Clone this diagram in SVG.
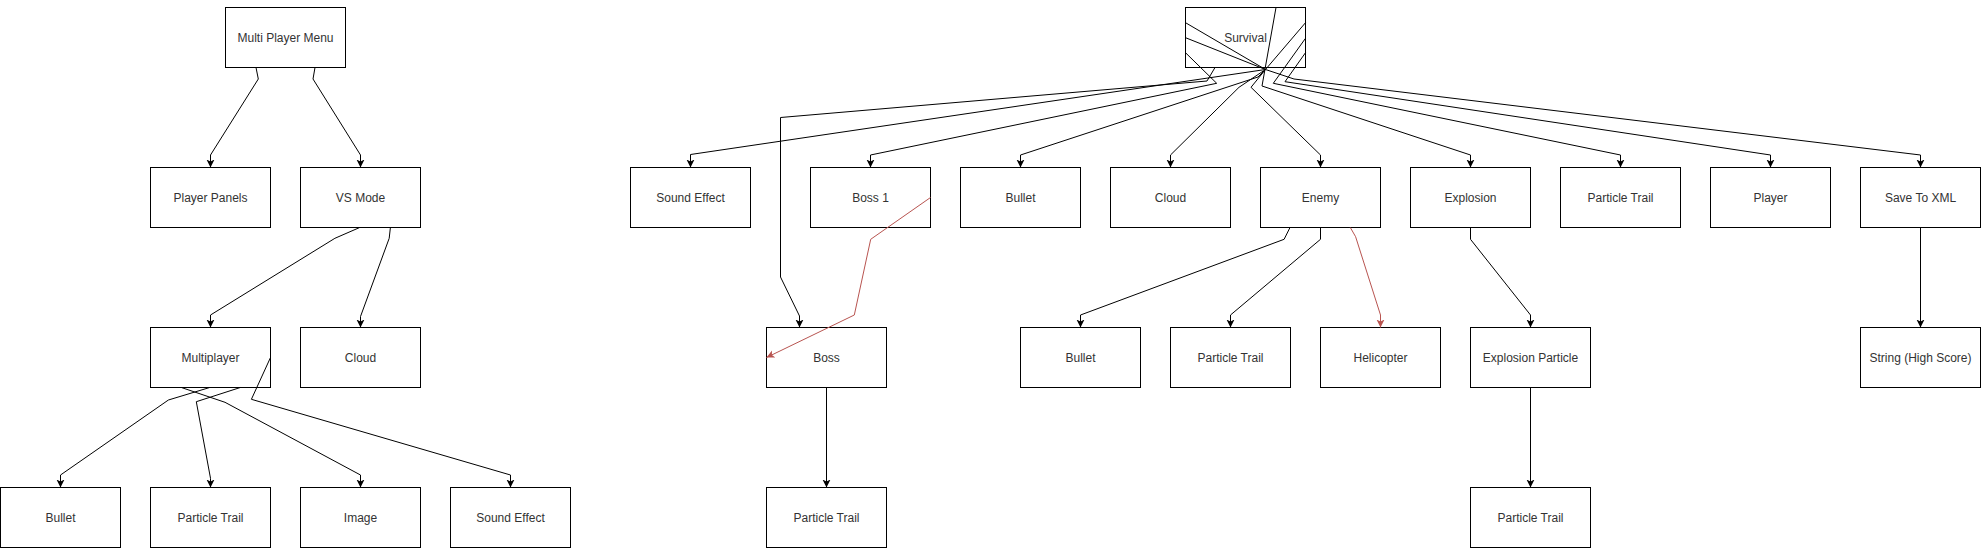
<svg xmlns="http://www.w3.org/2000/svg" width="1981" height="548" viewBox="0 0 1981 548">
<style>
.box{fill:#fff;stroke:#000;stroke-width:1}
.lbl{font-family:"Liberation Sans",Arial,sans-serif;font-size:12px;fill:#333;text-anchor:middle}
.e{fill:none;stroke:#000;stroke-width:1;marker-end:url(#arr)}
.r{fill:none;stroke:#b85450;stroke-width:1;marker-end:url(#arrR)}
.n{fill:none;stroke:#000;stroke-width:1}
</style>
<defs>
<marker id="arr" markerWidth="10" markerHeight="10" refX="8" refY="4" orient="auto" markerUnits="userSpaceOnUse"><path d="M0,0 L8,4 L0,8 L2,4 z" fill="#000"/></marker>
<marker id="arrR" markerWidth="10" markerHeight="10" refX="8" refY="4" orient="auto" markerUnits="userSpaceOnUse"><path d="M0,0 L8,4 L0,8 L2,4 z" fill="#b85450"/></marker>
</defs>
<rect width="1981" height="548" fill="#fff"/>
<g id="nodes">
<g id="mpm"><rect class="box" x="225.5" y="7.5" width="120" height="60"/><text class="lbl" x="285.5" y="41.5">Multi Player Menu</text></g>
<g id="pp"><rect class="box" x="150.5" y="167.5" width="120" height="60"/><text class="lbl" x="210.5" y="201.5">Player Panels</text></g>
<g id="vs"><rect class="box" x="300.5" y="167.5" width="120" height="60"/><text class="lbl" x="360.5" y="201.5">VS Mode</text></g>
<g id="mp"><rect class="box" x="150.5" y="327.5" width="120" height="60"/><text class="lbl" x="210.5" y="361.5">Multiplayer</text></g>
<g id="cl1"><rect class="box" x="300.5" y="327.5" width="120" height="60"/><text class="lbl" x="360.5" y="361.5">Cloud</text></g>
<g id="b1"><rect class="box" x="0.5" y="487.5" width="120" height="60"/><text class="lbl" x="60.5" y="521.5">Bullet</text></g>
<g id="pt1"><rect class="box" x="150.5" y="487.5" width="120" height="60"/><text class="lbl" x="210.5" y="521.5">Particle Trail</text></g>
<g id="img"><rect class="box" x="300.5" y="487.5" width="120" height="60"/><text class="lbl" x="360.5" y="521.5">Image</text></g>
<g id="se1"><rect class="box" x="450.5" y="487.5" width="120" height="60"/><text class="lbl" x="510.5" y="521.5">Sound Effect</text></g>
<g id="surv"><rect class="box" x="1185.5" y="7.5" width="120" height="60"/><text class="lbl" x="1245.5" y="41.5">Survival</text></g>
<g id="se2"><rect class="box" x="630.5" y="167.5" width="120" height="60"/><text class="lbl" x="690.5" y="201.5">Sound Effect</text></g>
<g id="boss1"><rect class="box" x="810.5" y="167.5" width="120" height="60"/><text class="lbl" x="870.5" y="201.5">Boss 1</text></g>
<g id="bul2"><rect class="box" x="960.5" y="167.5" width="120" height="60"/><text class="lbl" x="1020.5" y="201.5">Bullet</text></g>
<g id="cl2"><rect class="box" x="1110.5" y="167.5" width="120" height="60"/><text class="lbl" x="1170.5" y="201.5">Cloud</text></g>
<g id="enemy"><rect class="box" x="1260.5" y="167.5" width="120" height="60"/><text class="lbl" x="1320.5" y="201.5">Enemy</text></g>
<g id="expl"><rect class="box" x="1410.5" y="167.5" width="120" height="60"/><text class="lbl" x="1470.5" y="201.5">Explosion</text></g>
<g id="pt2"><rect class="box" x="1560.5" y="167.5" width="120" height="60"/><text class="lbl" x="1620.5" y="201.5">Particle Trail</text></g>
<g id="player"><rect class="box" x="1710.5" y="167.5" width="120" height="60"/><text class="lbl" x="1770.5" y="201.5">Player</text></g>
<g id="save"><rect class="box" x="1860.5" y="167.5" width="120" height="60"/><text class="lbl" x="1920.5" y="201.5">Save To XML</text></g>
<g id="boss"><rect class="box" x="766.5" y="327.5" width="120" height="60"/><text class="lbl" x="826.5" y="361.5">Boss</text></g>
<g id="bul3"><rect class="box" x="1020.5" y="327.5" width="120" height="60"/><text class="lbl" x="1080.5" y="361.5">Bullet</text></g>
<g id="pt3"><rect class="box" x="1170.5" y="327.5" width="120" height="60"/><text class="lbl" x="1230.5" y="361.5">Particle Trail</text></g>
<g id="heli"><rect class="box" x="1320.5" y="327.5" width="120" height="60"/><text class="lbl" x="1380.5" y="361.5">Helicopter</text></g>
<g id="ep"><rect class="box" x="1470.5" y="327.5" width="120" height="60"/><text class="lbl" x="1530.5" y="361.5">Explosion Particle</text></g>
<g id="str"><rect class="box" x="1860.5" y="327.5" width="120" height="60"/><text class="lbl" x="1920.5" y="361.5">String (High Score)</text></g>
<g id="pt4"><rect class="box" x="766.5" y="487.5" width="120" height="60"/><text class="lbl" x="826.5" y="521.5">Particle Trail</text></g>
<g id="pt5"><rect class="box" x="1470.5" y="487.5" width="120" height="60"/><text class="lbl" x="1530.5" y="521.5">Particle Trail</text></g>
</g>
<g id="connectors">
<path class="e" d="M256,67.5 L258.3,79 L210.5,155 L210.5,167.5"/>
<path class="e" d="M315,67.5 L313,79 L360.5,155 L360.5,167.5"/>
<path class="e" d="M359.7,227.5 L334.9,238.3 L210.5,315 L210.5,327.5"/>
<path class="e" d="M390.4,227.5 L389.2,238.3 L360.5,316.5 L360.5,327.5"/>
<path class="e" d="M209.7,387.5 L168.4,400 L60.5,475 L60.5,487.5"/>
<path class="e" d="M240.3,387.5 L196.3,401.7 L210.5,478.3 L210.5,487.5"/>
<path class="e" d="M181.4,387.5 L225,402.3 L360.5,475 L360.5,487.5"/>
<path class="e" d="M270.5,357.5 L251.4,399.3 L510.5,475 L510.5,487.5"/>
<path class="e" d="M1185.5,22.7 L1265.5,69.5 L690.5,154.5 L690.5,167.5"/>
<path class="e" d="M1215,67.5 L1207,81 L780.5,117.5 L780.5,277 L799.5,316 L799.5,327.5"/>
<path class="e" d="M1185.5,52.7 L1216.7,83.3 L870.5,155 L870.5,167.5"/>
<path class="e" d="M1265.5,69.5 L1258,77 L1020.5,155 L1020.5,167.5"/>
<path class="e" d="M1265.5,69.5 L1239,87.3 L1170.5,155 L1170.5,167.5"/>
<path class="e" d="M1185.5,37.7 L1265.5,69.5 L1251,87.3 L1320.5,155 L1320.5,167.5"/>
<path class="e" d="M1276,7.5 L1262,86 L1470.5,155 L1470.5,167.5"/>
<path class="e" d="M1305.5,38.3 L1273.3,83.3 L1620.5,155 L1620.5,167.5"/>
<path class="e" d="M1305.5,52.7 L1285,81.7 L1770.5,155 L1770.5,167.5"/>
<path class="e" d="M1305.5,22.7 L1265.5,69.5 L1294,79 L1920.5,155 L1920.5,167.5"/>
<path class="e" d="M1290,227.5 L1284.1,239.3 L1080.5,315 L1080.5,327.5"/>
<path class="e" d="M1320.5,227.5 L1320.5,239.3 L1230.5,315 L1230.5,327.5"/>
<path class="r" d="M1350.3,227.5 L1355.6,236.7 L1380.5,315 L1380.5,327.5"/>
<path class="e" d="M1470.5,227.5 L1470.5,239.3 L1530.5,315 L1530.5,327.5"/>
<path class="e" d="M1920.5,227.5 L1920.5,327.5"/>
<path class="e" d="M1530.5,387.5 L1530.5,487.5"/>
<path class="e" d="M826.5,387.5 L826.5,487.5"/>
<path class="r" d="M930.5,197.5 L870.7,239.3 L854.3,315 L766.5,357.5"/>
</g>
</svg>
